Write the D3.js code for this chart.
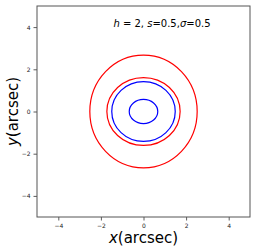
<!DOCTYPE html>
<html lang="en">
<head>
<meta charset="utf-8">
<script src="https://cdn.jsdelivr.net/npm/d3@7"></script>
<style>
body { margin: 0; background: #fff; }
text { font-family: "DejaVu Sans", sans-serif; }
</style>
</head>
<body>
<script>
// critical curves / caustics, semi-axes in arcsec
var curveNames = ["caustic outer", "caustic inner", "critical outer", "critical inner"];
var curveColors = ["red", "red", "blue", "blue"];
var curveRx = [2.52, 1.72, 1.49, 0.67];
var curveRy = [2.67, 1.61, 1.42, 0.57];
var xTicks = [-4, -2, 0, 2, 4];
var yTicks = [-4, -2, 0, 2, 4];

var width = 256, height = 251;
var margin = {left: 37, right: 6, top: 6, bottom: 34};

var svg = d3.select("body").append("svg")
    .attr("width", width).attr("height", height);

var x = d3.scaleLinear().domain([-5, 5]).range([margin.left, width - margin.right]);
var y = d3.scaleLinear().domain([-5, 5]).range([height - margin.bottom, margin.top]);

// curves
svg.selectAll(".curve")
    .data(curveRx)
    .enter().append("ellipse")
    .attr("class", "curve")
    .attr("cx", x(0))
    .attr("cy", y(0))
    .attr("rx", function(d) { return x(d) - x(0); })
    .attr("ry", function(d, i) { return y(0) - y(curveRy[i]); })
    .attr("fill", "none")
    .attr("stroke", function(d, i) { return curveColors[i]; })
    .attr("stroke-width", 1.2);

// axes
var fmt = function(d) { return d < 0 ? "\u2212" + (-d) : d; };
var gx = svg.append("g")
    .attr("transform", "translate(0," + (height - margin.bottom) + ")")
    .call(d3.axisBottom(x).tickValues(xTicks).tickSize(3.5).tickPadding(3).tickFormat(fmt));
var gy = svg.append("g")
    .attr("transform", "translate(" + margin.left + ",0)")
    .call(d3.axisLeft(y).tickValues(yTicks).tickSize(3.5).tickPadding(3).tickFormat(fmt));
[gx, gy].forEach(function(g) {
    g.select(".domain").remove();
    g.selectAll("text").attr("font-size", 6).attr("fill", "#222").attr("font-family", "DejaVu Sans");
    g.selectAll("line").attr("stroke", "#333").attr("stroke-width", 0.8);
});

// frame
svg.append("rect")
    .attr("x", x(-5)).attr("y", y(5))
    .attr("width", x(5) - x(-5)).attr("height", y(-5) - y(5))
    .attr("fill", "none").attr("stroke", "#555").attr("stroke-width", 1);

// annotation
var ann = svg.append("text")
    .attr("x", 162).attr("y", 27)
    .attr("text-anchor", "middle")
    .attr("font-size", 10);
ann.append("tspan").attr("font-style", "italic").text("h");
ann.append("tspan").text(" = 2, ");
ann.append("tspan").attr("font-style", "italic").text("s");
ann.append("tspan").text("=0.5,");
ann.append("tspan").attr("font-style", "italic").text("\u03c3");
ann.append("tspan").text("=0.5");

// axis labels
var xl = svg.append("text")
    .attr("x", x(0)).attr("y", 243)
    .attr("text-anchor", "middle")
    .attr("font-size", 15);
xl.append("tspan").attr("font-style", "italic").text("x");
xl.append("tspan").text("(arcsec)");

var yl = svg.append("text")
    .attr("transform", "translate(18," + y(0) + ") rotate(-90)")
    .attr("text-anchor", "middle")
    .attr("font-size", 15);
yl.append("tspan").attr("font-style", "italic").text("y");
yl.append("tspan").text("(arcsec)");
</script>
</body>
</html>
